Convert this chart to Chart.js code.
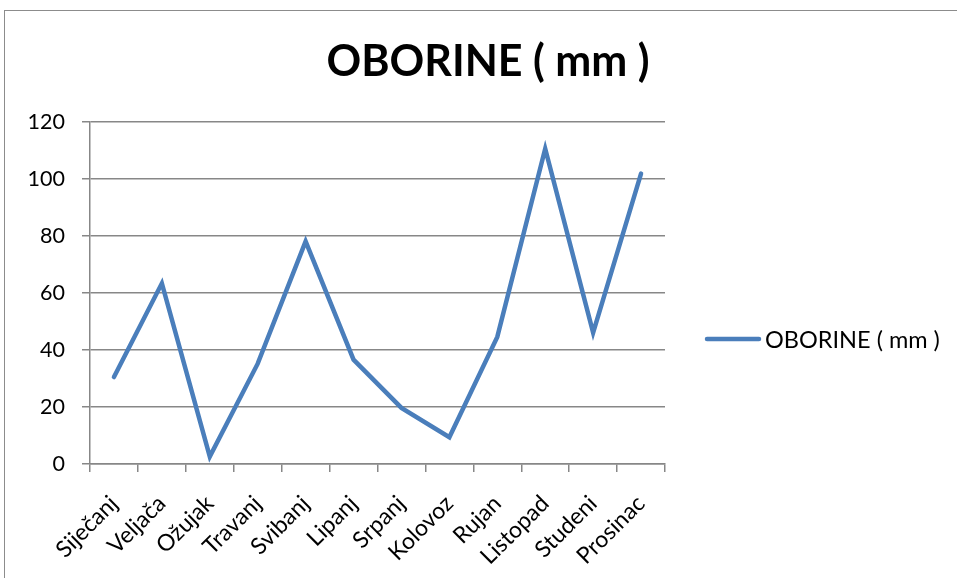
<!DOCTYPE html>
<html>
<head>
<meta charset="utf-8">
<script src="https://cdn.jsdelivr.net/npm/chart.js@4.4.0/dist/chart.umd.min.js"></script>
<style>
html,body{margin:0;padding:0;background:#fff;overflow:hidden;}
#wrap{position:relative;width:957px;height:578px;}
#frame{position:absolute;left:4px;top:10px;width:1200px;height:1200px;border:1.5px solid #8c8c8c;box-sizing:border-box;}
#c{position:absolute;left:0;top:0;}
</style>
</head>
<body>
<div id="wrap">
<div id="frame"></div>
<canvas id="c" width="957" height="578"></canvas>
</div>
<script>
const chartTitle = 'OBORINE ( mm )';
const seriesLabel = 'OBORINE ( mm )';
const months = ['Siječanj','Veljača','Ožujak','Travanj','Svibanj','Lipanj','Srpanj','Kolovoz','Rujan','Listopad','Studeni','Prosinac'];
const precipitation = [30.5, 63.4, 2.6, 35.2, 78.1, 36.6, 19.7, 9.4, 44.6, 110.6, 46.1, 101.9];
const yTicks = [0, 20, 40, 60, 80, 100, 120];

const FONT = 'Lato, "Open Sans", sans-serif';
const LINE_COLOR = '#4a7ebb';
const GRID_COLOR = '#878787';

const decor = {
  id: 'decor',
  afterDraw(chart) {
    const ctx = chart.ctx;
    ctx.save();
    // title
    ctx.fillStyle = '#000';
    ctx.font = 'bold 43px ' + FONT;
    ctx.textAlign = 'center';
    ctx.textBaseline = 'middle';
    ctx.fillText(chartTitle, 488, 62);
    // legend
    const ds = chart.data.datasets[0];
    ctx.strokeStyle = ds.borderColor;
    ctx.lineWidth = 4.5;
    ctx.lineCap = 'round';
    ctx.beginPath();
    ctx.moveTo(707, 339);
    ctx.lineTo(759, 339);
    ctx.stroke();
    ctx.font = '23.5px ' + FONT;
    ctx.textAlign = 'left';
    ctx.fillText(ds.label, 765, 340);
    ctx.restore();
  }
};

new Chart(document.getElementById('c'), {
  type: 'line',
  data: {
    labels: months,
    datasets: [{
      label: seriesLabel,
      data: precipitation,
      borderColor: LINE_COLOR,
      backgroundColor: LINE_COLOR,
      borderWidth: 4.5,
      pointRadius: 0,
      tension: 0,
      borderCapStyle: 'round',
      borderJoinStyle: 'miter'
    }]
  },
  options: {
    responsive: false,
    animation: false,
    devicePixelRatio: 1,
    layout: { padding: { top: 122, right: 292, left: 0, bottom: 0 } },
    plugins: {
      legend: { display: false },
      title: { display: false },
      tooltip: { enabled: false }
    },
    scales: {
      x: {
        offset: true,
        grid: {
          offset: true,
          drawOnChartArea: false,
          drawTicks: true,
          tickLength: 8,
          color: GRID_COLOR,
          lineWidth: 1.5
        },
        border: { color: GRID_COLOR, width: 1.5 },
        ticks: {
          color: '#000',
          font: { family: FONT, size: 23 },
          maxRotation: 45,
          minRotation: 45,
          padding: 18,
          autoSkip: false
        },
        afterFit(s) { s.height = 578 - 464; }
      },
      y: {
        min: 0,
        max: 120,
        afterBuildTicks(s) { s.ticks = yTicks.map(v => ({ value: v })); },
        grid: {
          color: GRID_COLOR,
          lineWidth: 1.5,
          tickLength: 8
        },
        border: { color: GRID_COLOR, width: 1.5 },
        ticks: {
          color: '#000',
          font: { family: FONT, size: 21.5 },
          padding: 17
        },
        afterFit(s) { s.width = 90; }
      }
    }
  },
  plugins: [decor]
});
</script>
</body>
</html>
